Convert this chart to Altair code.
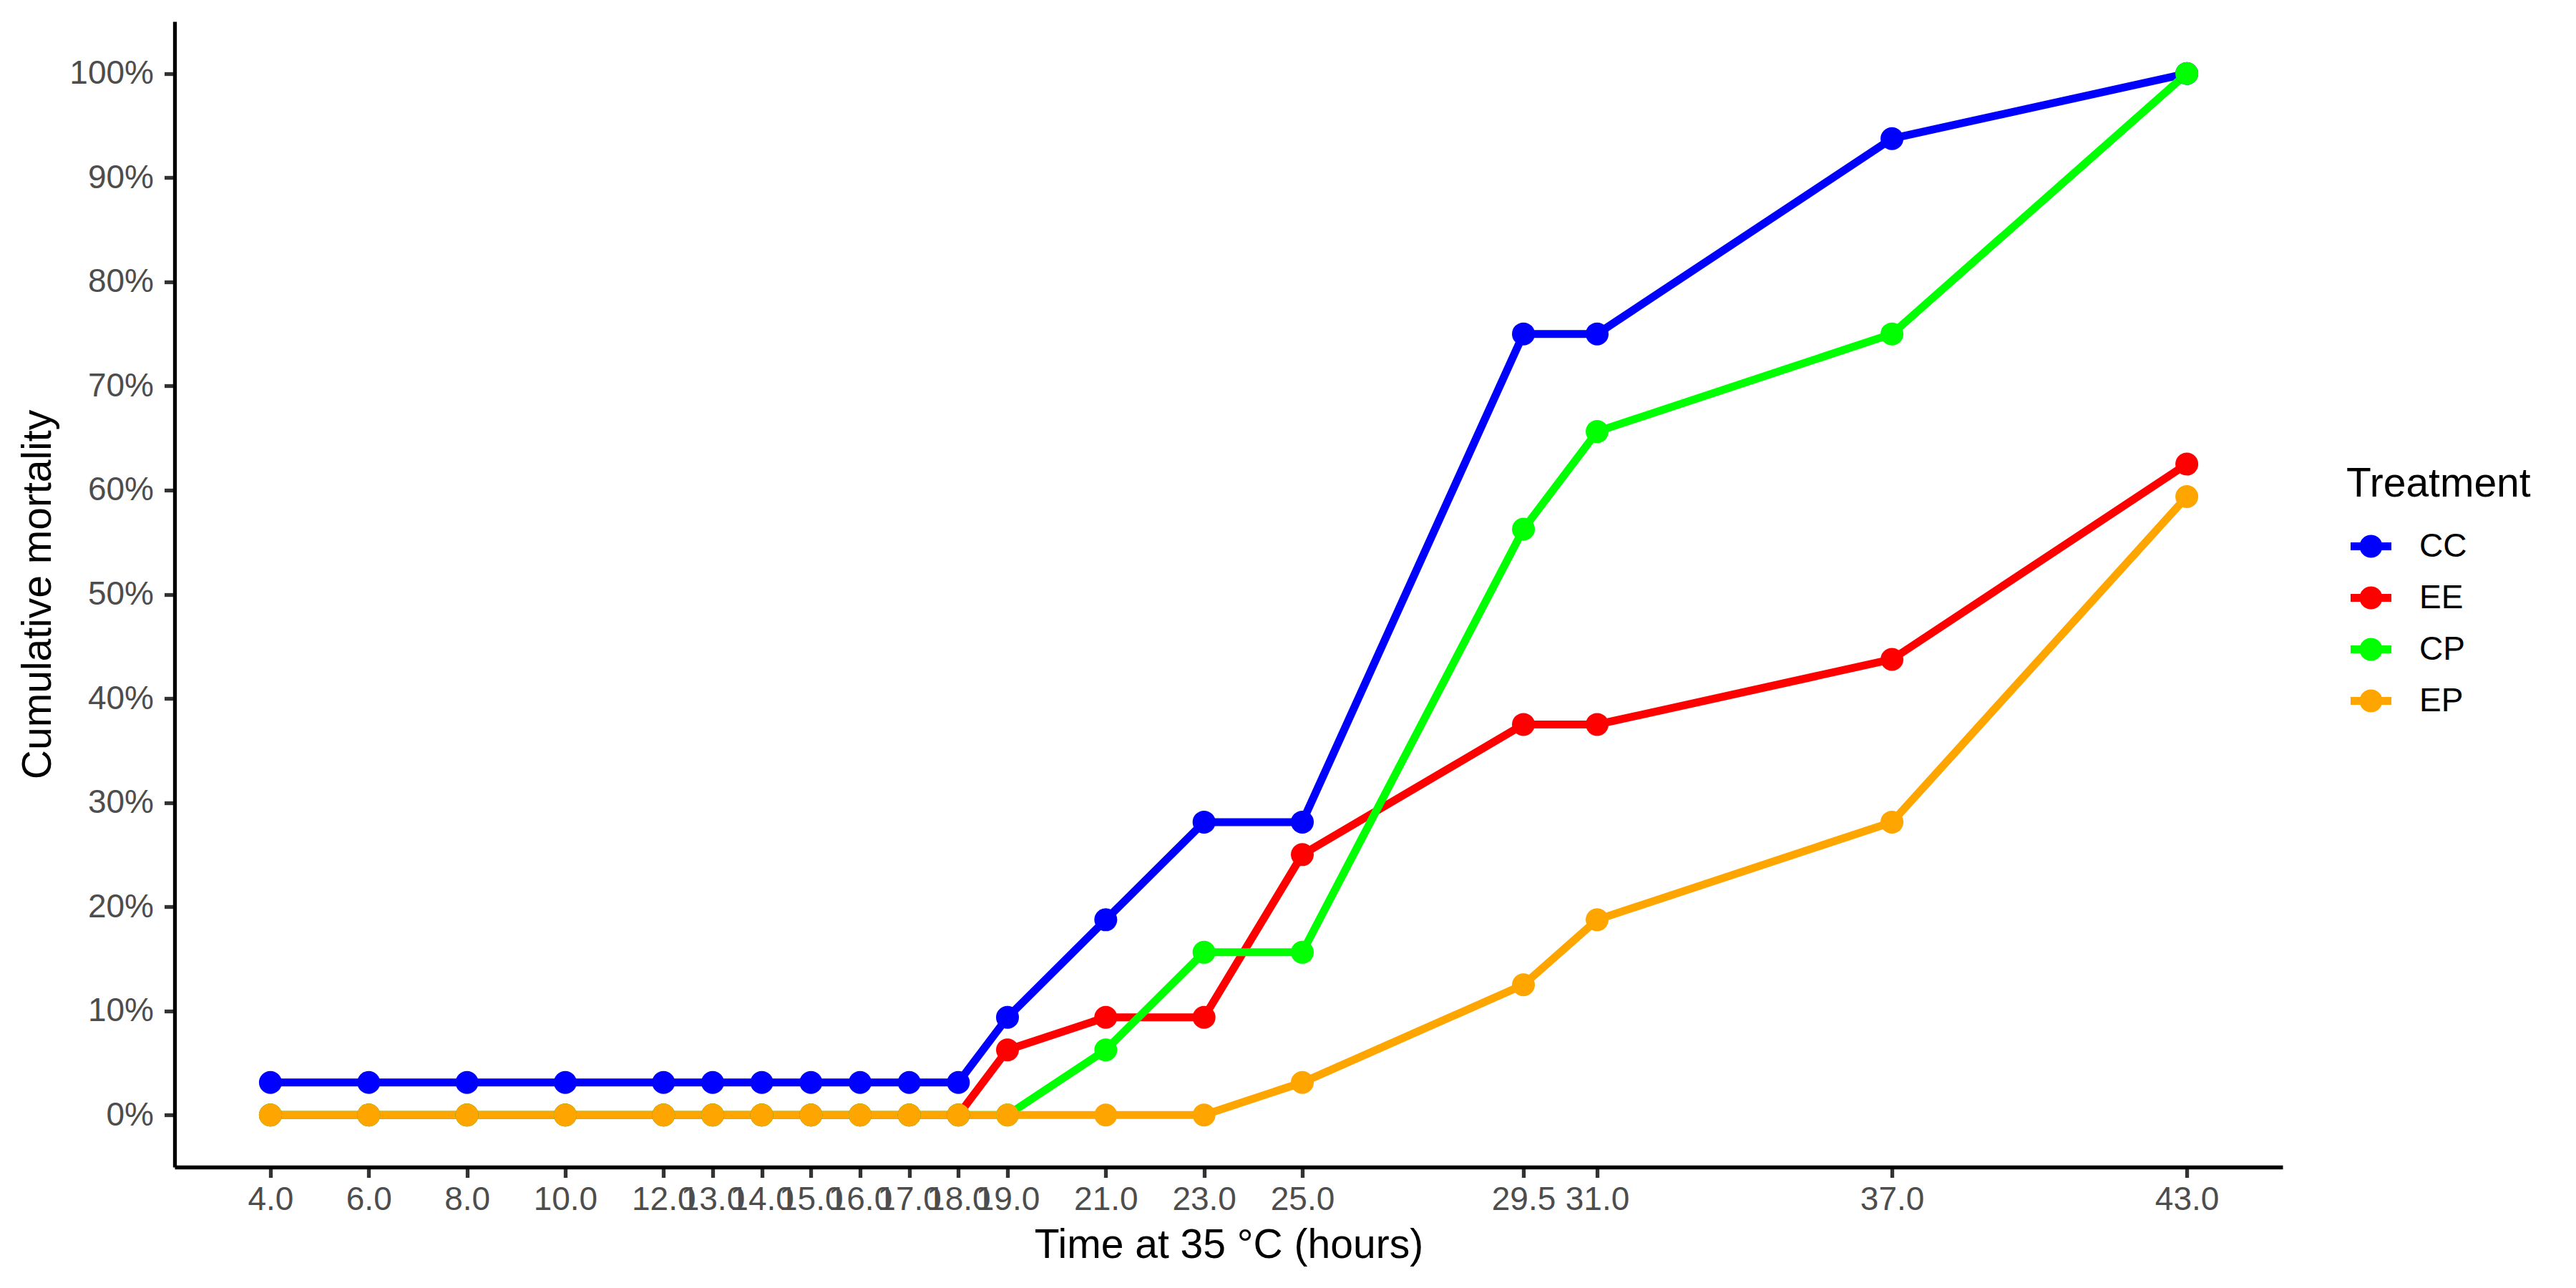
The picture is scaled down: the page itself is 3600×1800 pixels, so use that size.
import math
import altair as alt
import pandas as pd

times = [4.0, 6.0, 8.0, 10.0, 12.0, 13.0, 14.0, 15.0, 16.0, 17.0, 18.0, 19.0,
         21.0, 23.0, 25.0, 29.5, 31.0, 37.0, 43.0]
treatments = ["CC", "EE", "CP", "EP"]
colors = ["#0000FF", "#FF0000", "#00FF00", "#FFA500"]

cc = [0.03125] * 11 + [0.09375, 0.1875, 0.28125, 0.28125, 0.75, 0.75, 0.9375, 1.0]
ee = [0.0] * 11 + [0.0625, 0.09375, 0.09375, 0.25, 0.375, 0.375, 0.4375, 0.625]
cp = [0.0] * 11 + [0.0, 0.0625, 0.15625, 0.15625, 0.5625, 0.65625, 0.75, 1.0]
ep = [0.0] * 11 + [0.0, 0.0, 0.0, 0.03125, 0.125, 0.1875, 0.28125, 0.59375]

series = {"CC": cc, "EE": ee, "CP": cp, "EP": ep}
rows = []
for i, t in enumerate(treatments):
    for x, y in zip(times, series[t]):
        rows.append({"time": x, "mortality": y, "Treatment": t, "order": i})
df = pd.DataFrame(rows)

FONT = "Liberation Sans"
y_ticks = [i / 10 for i in range(11)]

# legend key shape (line with a dot), in symbol unit coordinates
h = 0.193
r = 0.561
bar = "M-1,{0:.3f}L1,{0:.3f}L1,{1:.3f}L-1,{1:.3f}Z".format(-h, h)
pts = ["{:.4f},{:.4f}".format(r * math.cos(2 * math.pi * k / 40),
                              r * math.sin(2 * math.pi * k / 40)) for k in range(40)]
dot = "M" + "L".join(pts) + "Z"
legend_symbol = bar + dot

x_enc = alt.X("time:Q",
              scale=alt.Scale(domain=[2.05, 44.95], nice=False, zero=False),
              axis=alt.Axis(values=times, format=".1f", labelOverlap=False,
                            labelFlush=False, title="Time at 35 °C (hours)",
                            titleBaseline="alphabetic", titleY=126,
                            labelPadding=9))
y_enc = alt.Y("mortality:Q",
              scale=alt.Scale(domain=[-0.05, 1.05], nice=False, zero=False),
              axis=alt.Axis(values=y_ticks, format=".0%", title="Cumulative mortality",
                            titleBaseline="alphabetic", titleX=-174, titleAngle=270,
                            labelPadding=15))
color_scale = alt.Scale(domain=treatments, range=colors)


def make_legend():
    return alt.Legend(title="Treatment", orient="none", legendX=3035, legendY=619,
                      symbolType=legend_symbol, symbolSize=3249,
                      symbolStrokeWidth=0, symbolOffset=6, symbolOpacity=1,
                      labelOffset=39, rowPadding=20, titlePadding=29, padding=0,
                      titleLimit=1000, labelLimit=1000)


lines = alt.Chart(df).mark_line(strokeWidth=11).encode(
    x=x_enc, y=y_enc,
    color=alt.Color("Treatment:N", scale=color_scale, legend=make_legend()),
    detail="Treatment:N",
    order=alt.Order("time:Q"),
)

points = alt.Chart(df).mark_point(filled=True, size=1024, opacity=1).encode(
    x=x_enc, y=y_enc,
    color=alt.Color("Treatment:N", scale=color_scale, legend=make_legend()),
)

chart = alt.layer(lines, points).properties(
    width=2946, height=1601,
    autosize=alt.AutoSizeParams(type="none"),
    padding={"left": 236, "top": 22, "right": 380, "bottom": 150},
).configure_view(strokeWidth=0).configure_axis(
    grid=False,
    domainColor="#000000", domainWidth=5.3,
    tickColor="#333333", tickWidth=5.3, tickSize=14.5,
    labelColor="#4D4D4D", labelFont=FONT, labelFontSize=46,
    titleColor="#000000", titleFont=FONT, titleFontSize=57, titleFontWeight="normal",
).configure_legend(
    titleFont=FONT, titleFontSize=57, titleFontWeight="normal", titleColor="#000000",
    labelFont=FONT, labelFontSize=46, labelColor="#000000",
)

chart.save("out.html", embed_options={"renderer": "svg", "actions": False})
